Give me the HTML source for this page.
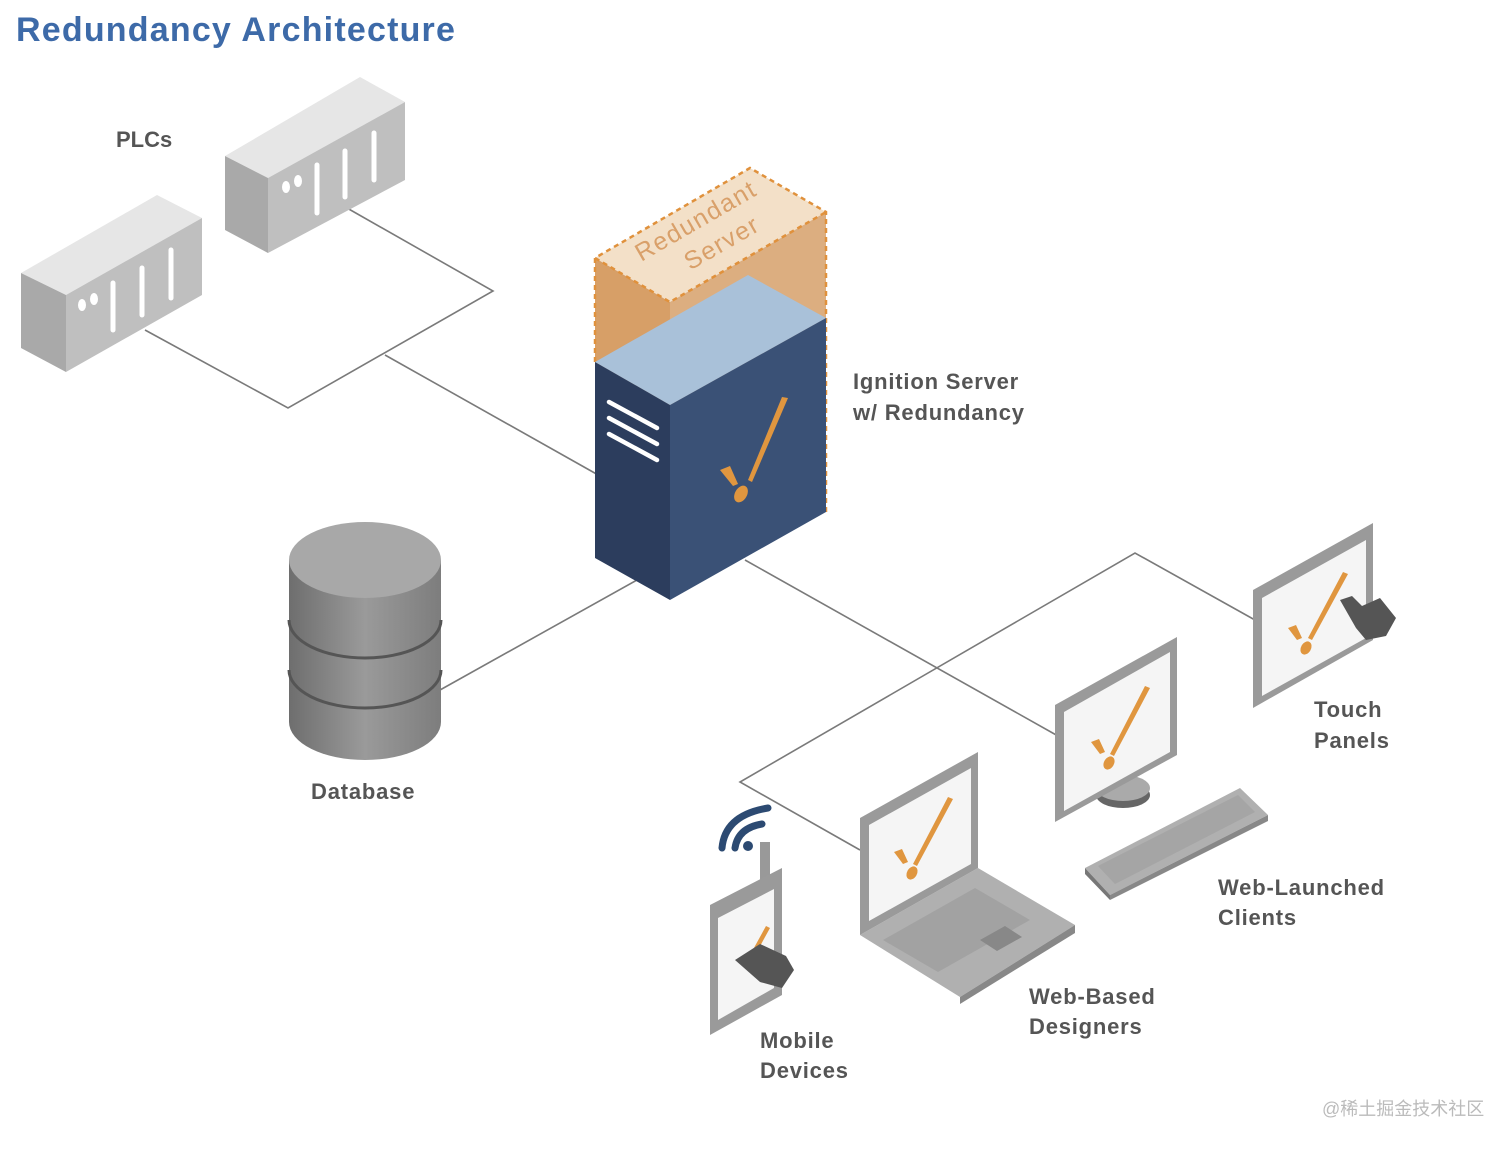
<!DOCTYPE html>
<html><head><meta charset="utf-8"><style>
html,body{margin:0;padding:0;background:#fff;}
svg{display:block;}
text{font-family:"Liberation Sans","DejaVu Sans",sans-serif;font-weight:bold;}
</style></head><body>
<svg width="1512" height="1149" viewBox="0 0 1512 1149" xmlns="http://www.w3.org/2000/svg">
<rect width="1512" height="1149" fill="#fff"/>
<text x="16" y="41" font-size="34" fill="#3d6aa8" style="letter-spacing:1.2px">Redundancy Architecture</text>

<g stroke="#7a7a7a" stroke-width="1.6" fill="none">
<polyline points="145,330 288,408 493,291 347,208"/>
<line x1="385" y1="355" x2="600" y2="476"/>
<line x1="637" y1="580" x2="440" y2="690"/>
<line x1="745" y1="560" x2="1058" y2="736"/>
<polyline points="860,850 740,782 1135,553 1255,620"/>
</g>

<polygon points="225,156 360,77 405,102 268,178" fill="#e6e6e6"/>
<polygon points="225,156 268,178 268,253 225,230" fill="#a9a9a9"/>
<polygon points="268,178 405,102 405,180 268,253" fill="#bfbfbf"/>
<g stroke="#fff" stroke-width="5" stroke-linecap="round">
<line x1="317" y1="165" x2="317" y2="213"/><line x1="345" y1="151" x2="345" y2="197"/><line x1="374" y1="133" x2="374" y2="180"/>
</g>
<ellipse cx="286" cy="187" rx="4" ry="6" fill="#fff"/><ellipse cx="298" cy="181" rx="4" ry="6" fill="#fff"/>

<polygon points="21,273 157,195 202,218 66,295" fill="#e6e6e6"/>
<polygon points="21,273 66,295 66,372 21,348" fill="#a9a9a9"/>
<polygon points="66,295 202,218 202,295 66,372" fill="#bfbfbf"/>
<g stroke="#fff" stroke-width="5" stroke-linecap="round">
<line x1="113" y1="283" x2="113" y2="330"/><line x1="142" y1="268" x2="142" y2="315"/><line x1="171" y1="250" x2="171" y2="298"/>
</g>
<ellipse cx="82" cy="305" rx="4" ry="6" fill="#fff"/><ellipse cx="94" cy="299" rx="4" ry="6" fill="#fff"/>
<text x="116" y="147" font-size="22" fill="#555">PLCs</text>

<polygon points="595,258 750,168 826,212 670,302" fill="#f3e0c8"/>
<polygon points="595,258 670,302 670,405 595,362" fill="#d79f67"/>
<polygon points="670,302 826,212 826,318 670,405" fill="#dcae80"/>
<polyline points="595,362 595,258 750,168 826,212 826,512" fill="none" stroke="#e0913c" stroke-width="2.5" stroke-dasharray="5,4"/>
<polyline points="595,258 670,302 826,212" fill="none" stroke="#e0913c" stroke-width="2.5" stroke-dasharray="5,4"/>
<text transform="translate(700,228) rotate(-30)" text-anchor="middle" font-size="25" fill="#d9a06a" style="font-weight:normal;letter-spacing:1.5px">Redundant</text>
<text transform="translate(726,250) rotate(-30)" text-anchor="middle" font-size="25" fill="#d9a06a" style="font-weight:normal;letter-spacing:1.5px">Server</text>

<polygon points="595,362 748,275 826,318 670,405" fill="#a9c1d9"/>
<polygon points="595,362 670,405 670,600 595,558" fill="#2c3d5d"/>
<polygon points="670,405 826,318 826,512 670,600" fill="#3a5176"/>
<g stroke="#fff" stroke-width="4.5" stroke-linecap="round">
<line x1="609" y1="402" x2="657" y2="428"/><line x1="609" y1="418" x2="657" y2="444"/><line x1="609" y1="434" x2="657" y2="460"/>
</g>
<path d="M782,397 L788,398 L752,482 L748,480 Z" fill="#e0963f"/>
<ellipse cx="741" cy="494" rx="6" ry="9" transform="rotate(30 741 494)" fill="#e0963f"/>
<path d="M720,470 L730,466 L738,484 L733,486 Z" fill="#e0963f"/>
<text x="853" y="389" font-size="22" fill="#555" style="letter-spacing:0.8px">Ignition Server</text>
<text x="853" y="420" font-size="22" fill="#555" style="letter-spacing:0.8px">w/ Redundancy</text>

<defs>
<linearGradient id="dbg" x1="0" x2="1">
<stop offset="0" stop-color="#6e6e6e"/><stop offset="0.5" stop-color="#9a9a9a"/><stop offset="1" stop-color="#7d7d7d"/>
</linearGradient>
</defs>
<path d="M289,560 L289,722 A76,38 0 0 0 441,722 L441,560 Z" fill="url(#dbg)"/>
<ellipse cx="365" cy="560" rx="76" ry="38" fill="#a8a8a8"/>
<path d="M289,620 A76,38 0 0 0 441,620" fill="none" stroke="#555" stroke-width="3"/>
<path d="M289,670 A76,38 0 0 0 441,670" fill="none" stroke="#555" stroke-width="3"/>
<text x="311" y="799" font-size="22" fill="#555" style="letter-spacing:0.8px">Database</text>

<polygon points="1253,590 1373,523 1373,640 1253,708" fill="#9a9a9a"/>
<polygon points="1262,598 1366,540 1366,638 1262,696" fill="#f5f5f5"/>
<path d="M1343,572 L1348,574 L1312,640 L1308,638 Z" fill="#e0963f"/>
<ellipse cx="1306" cy="648" rx="5" ry="7" transform="rotate(30 1306 648)" fill="#e0963f"/>
<path d="M1288,628 L1296,625 L1302,638 L1297,640 Z" fill="#e0963f"/>
<path d="M1340,600 L1352,596 L1362,606 L1380,598 L1396,618 L1386,636 L1366,640 L1356,628 Z" fill="#555"/>
<text x="1314" y="717" font-size="22" fill="#555" style="letter-spacing:0.8px">Touch</text>
<text x="1314" y="748" font-size="22" fill="#555" style="letter-spacing:0.8px">Panels</text>

<ellipse cx="1123" cy="795" rx="27" ry="13" fill="#666"/>
<ellipse cx="1123" cy="788" rx="27" ry="13" fill="#aaa"/>
<polygon points="1055,705 1177,637 1177,755 1055,822" fill="#9a9a9a"/>
<polygon points="1064,712 1170,652 1170,752 1064,811" fill="#f5f5f5"/>
<path d="M1145,686 L1150,688 L1114,756 L1110,754 Z" fill="#e0963f"/>
<ellipse cx="1109" cy="763" rx="5" ry="7" transform="rotate(30 1109 763)" fill="#e0963f"/>
<path d="M1091,742 L1099,739 L1105,752 L1100,754 Z" fill="#e0963f"/>
<polygon points="1085,868 1240,788 1268,815 1110,895" fill="#b0b0b0"/>
<polygon points="1085,868 1110,895 1110,900 1085,874" fill="#777"/>
<polygon points="1110,895 1268,815 1268,821 1110,900" fill="#888"/>
<polygon points="1098,866 1238,795 1255,812 1115,884" fill="#999" opacity="0.5"/>
<text x="1218" y="895" font-size="22" fill="#555" style="letter-spacing:0.8px">Web-Launched</text>
<text x="1218" y="925" font-size="22" fill="#555" style="letter-spacing:0.8px">Clients</text>

<polygon points="860,935 978,868 1075,925 960,997" fill="#b0b0b0"/>
<polygon points="960,997 1075,925 1075,933 960,1004" fill="#888"/>
<polygon points="883,940 975,888 1030,920 938,972" fill="#999" opacity="0.6"/>
<polygon points="980,940 1005,926 1022,937 997,951" fill="#888"/>
<polygon points="860,818 978,752 978,868 860,935" fill="#9a9a9a"/>
<polygon points="869,825 971,768 971,864 869,921" fill="#f5f5f5"/>
<path d="M948,797 L953,799 L917,866 L913,864 Z" fill="#e0963f"/>
<ellipse cx="912" cy="873" rx="5" ry="7" transform="rotate(30 912 873)" fill="#e0963f"/>
<path d="M894,852 L902,849 L908,862 L903,864 Z" fill="#e0963f"/>
<text x="1029" y="1004" font-size="22" fill="#555" style="letter-spacing:0.8px">Web-Based</text>
<text x="1029" y="1034" font-size="22" fill="#555" style="letter-spacing:0.8px">Designers</text>

<rect x="760" y="842" width="10" height="40" fill="#999"/>
<polygon points="710,905 782,868 782,995 710,1035" fill="#9a9a9a"/>
<polygon points="718,918 774,889 774,988 718,1020" fill="#f5f5f5"/>
<path d="M766,926 L770,928 L748,968 L744,966 Z" fill="#e0963f"/>
<path d="M735,960 L760,944 L786,956 L794,970 L782,988 L760,982 Z" fill="#555"/>
<path d="M722,848 Q725,815 768,808" fill="none" stroke="#2c4a72" stroke-width="7" stroke-linecap="round"/>
<path d="M735,848 Q738,828 762,824" fill="none" stroke="#2c4a72" stroke-width="7" stroke-linecap="round"/>
<circle cx="748" cy="846" r="5" fill="#2c4a72"/>
<text x="760" y="1048" font-size="22" fill="#555" style="letter-spacing:0.8px">Mobile</text>
<text x="760" y="1078" font-size="22" fill="#555" style="letter-spacing:0.8px">Devices</text>

<text x="1322" y="1115" font-size="18" fill="#bbb" style="font-weight:normal;font-family:'Liberation Sans','Noto Sans CJK SC',sans-serif">@稀土掘金技术社区</text>
</svg>
</body></html>
